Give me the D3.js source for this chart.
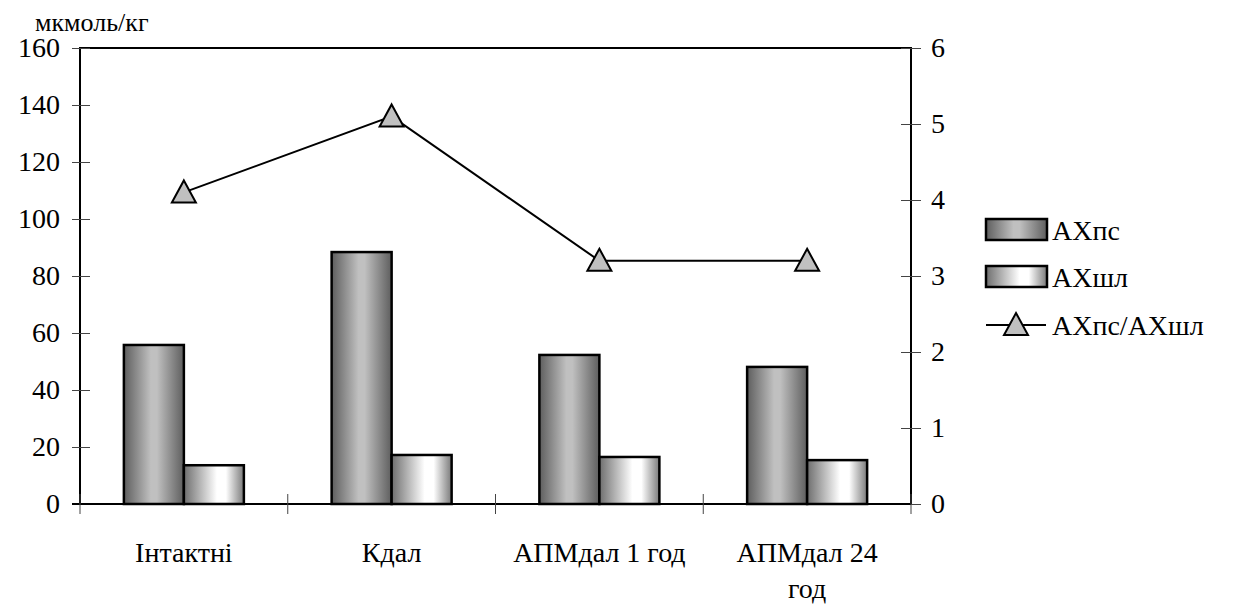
<!DOCTYPE html>
<html>
<head>
<meta charset="utf-8">
<script src="https://cdn.jsdelivr.net/npm/d3@7"></script>
</head>
<body style="margin:0">
<div id="root"></div>
<script>
// chart data
const categories = ["Інтактні", "Кдал", "АПМдал 1 год", "АПМдал 24 год"];
const axPs = [55.8, 88.4, 52.3, 48.1];
const axShl = [13.6, 17.2, 16.5, 15.4];
const ratio = [4.1, 5.1, 3.2, 3.2];
const leftTicks = [0, 20, 40, 60, 80, 100, 120, 140, 160];
const rightTicks = [0, 1, 2, 3, 4, 5, 6];

const W = 1244, H = 608;
const margin = { top: 48, right: 333, bottom: 104, left: 80 };
const width = W - margin.left - margin.right,
  height = H - margin.top - margin.bottom;
const serif = "Liberation Serif";

const svg = d3.select("#root").append("svg")
  .attr("width", W).attr("height", H)
  .style("font-family", serif);

const defs = svg.append("defs");
const g1 = defs.append("linearGradient").attr("id", "gPs");
[[0, "#5e5e5e"], [0.45, "#c0c0c0"], [0.55, "#c0c0c0"], [1, "#5e5e5e"]]
  .forEach(s => g1.append("stop").attr("offset", s[0]).attr("stop-color", s[1]));
const g2 = defs.append("linearGradient").attr("id", "gShl");
[[0, "#6e6e6e"], [0.55, "#ffffff"], [0.7, "#ffffff"], [1, "#7a7a7a"]]
  .forEach(s => g2.append("stop").attr("offset", s[0]).attr("stop-color", s[1]));

const g = svg.append("g").attr("transform", `translate(${margin.left},${margin.top})`);

const x0 = d3.scaleBand().domain(categories).range([0, width]);
const x1 = d3.scaleBand().domain(["ps", "shl"]).range([0, 120]);
const yL = d3.scaleLinear().domain([0, 160]).range([height, 0]);
const yR = d3.scaleLinear().domain([0, 6]).range([height, 0]);

// frame (top, left, right)
g.append("path")
  .attr("d", `M0,${height}V0H${width}V${height}`)
  .attr("fill", "none").attr("stroke", "#000").attr("stroke-width", 2);

// left axis
const axL = g.append("g").call(d3.axisLeft(yL).tickValues(leftTicks).tickSizeOuter(0).tickPadding(14));
axL.attr("font-family", null).attr("font-size", null);
axL.select(".domain").remove();
axL.selectAll(".tick line").attr("x2", 10).attr("x1", -8).attr("stroke", "#444");
axL.selectAll(".tick text").style("font-family", serif).style("font-size", "28px").attr("fill", "#000");

// right axis
const axR = g.append("g").attr("transform", `translate(${width},0)`)
  .call(d3.axisRight(yR).tickValues(rightTicks).tickFormat(d3.format("d")).tickSizeOuter(0).tickPadding(14));
axR.attr("font-family", null).attr("font-size", null);
axR.select(".domain").remove();
axR.selectAll(".tick line").attr("x1", -10).attr("x2", 10).attr("stroke", "#444");
axR.selectAll(".tick text").style("font-family", serif).style("font-size", "28px").attr("fill", "#000");

// bars
const grp = g.selectAll(".grp").data(categories).enter().append("g")
  .attr("transform", d => `translate(${x0(d) + (x0.bandwidth() - 120) / 2},0)`);
grp.append("rect")
  .attr("x", x1("ps")).attr("width", x1.bandwidth())
  .attr("y", (d, i) => yL(axPs[i])).attr("height", (d, i) => height - yL(axPs[i]))
  .attr("fill", "url(#gPs)").attr("stroke", "#000").attr("stroke-width", 2.5);
grp.append("rect")
  .attr("x", x1("shl")).attr("width", x1.bandwidth())
  .attr("y", (d, i) => yL(axShl[i])).attr("height", (d, i) => height - yL(axShl[i]))
  .attr("fill", "url(#gShl)").attr("stroke", "#000").attr("stroke-width", 2.5);

// bottom axis
g.append("line").attr("x1", -8).attr("x2", width).attr("y1", height).attr("y2", height)
  .attr("stroke", "#000").attr("stroke-width", 2);
const bTicks = d3.range(categories.length + 1).map(i => i * x0.step());
g.selectAll(".btick").data(bTicks).enter().append("line")
  .attr("x1", d => d).attr("x2", d => d)
  .attr("y1", height - 10).attr("y2", height + 10)
  .attr("stroke", "#444");

// category labels, wrapped like the original
const labelLines = [["Інтактні"], ["Кдал"], ["АПМдал 1 год"], ["АПМдал 24", "год"]];
categories.forEach((c, i) => {
  labelLines[i].forEach((ln, j) => {
    g.append("text")
      .attr("x", x0(c) + x0.bandwidth() / 2).attr("y", height + 58 + j * 36)
      .attr("text-anchor", "middle")
      .style("font-family", serif).style("font-size", "28px")
      .text(ln);
  });
});

// ratio line
const cx = c => x0(c) + x0.bandwidth() / 2;
g.append("path").datum(ratio)
  .attr("fill", "none").attr("stroke", "#000").attr("stroke-width", 2)
  .attr("d", d3.line().x((d, i) => cx(categories[i])).y(d => yR(d)));
const tri = "M0,-12L12,10H-12Z";
g.selectAll(".tri").data(ratio).enter().append("path")
  .attr("d", tri)
  .attr("transform", (d, i) => `translate(${cx(categories[i])},${yR(d)})`)
  .attr("fill", "#c0c0c0").attr("stroke", "#000").attr("stroke-width", 2);

// y-axis unit label
svg.append("text").attr("x", 35).attr("y", 31)
  .style("font-family", serif).style("font-size", "26px").text("мкмоль/кг");

// legend
const leg = svg.append("g").attr("transform", "translate(986,219)");
const legItems = ["АХпс", "АХшл", "АХпс/АХшл"];
leg.append("rect").attr("width", 61).attr("height", 21)
  .attr("fill", "url(#gPs)").attr("stroke", "#000").attr("stroke-width", 2.5);
leg.append("rect").attr("y", 47).attr("width", 61).attr("height", 21)
  .attr("fill", "url(#gShl)").attr("stroke", "#000").attr("stroke-width", 2.5);
leg.append("line").attr("x1", 0).attr("x2", 60).attr("y1", 106).attr("y2", 106)
  .attr("stroke", "#000").attr("stroke-width", 2);
leg.append("path").attr("d", tri).attr("transform", "translate(30,106)")
  .attr("fill", "#c0c0c0").attr("stroke", "#000").attr("stroke-width", 2);
leg.selectAll(".lt").data(legItems).enter().append("text")
  .attr("x", 66).attr("y", (d, i) => [21, 68, 116][i])
  .style("font-family", serif).style("font-size", "28px")
  .text(d => d);
</script>
</body>
</html>
